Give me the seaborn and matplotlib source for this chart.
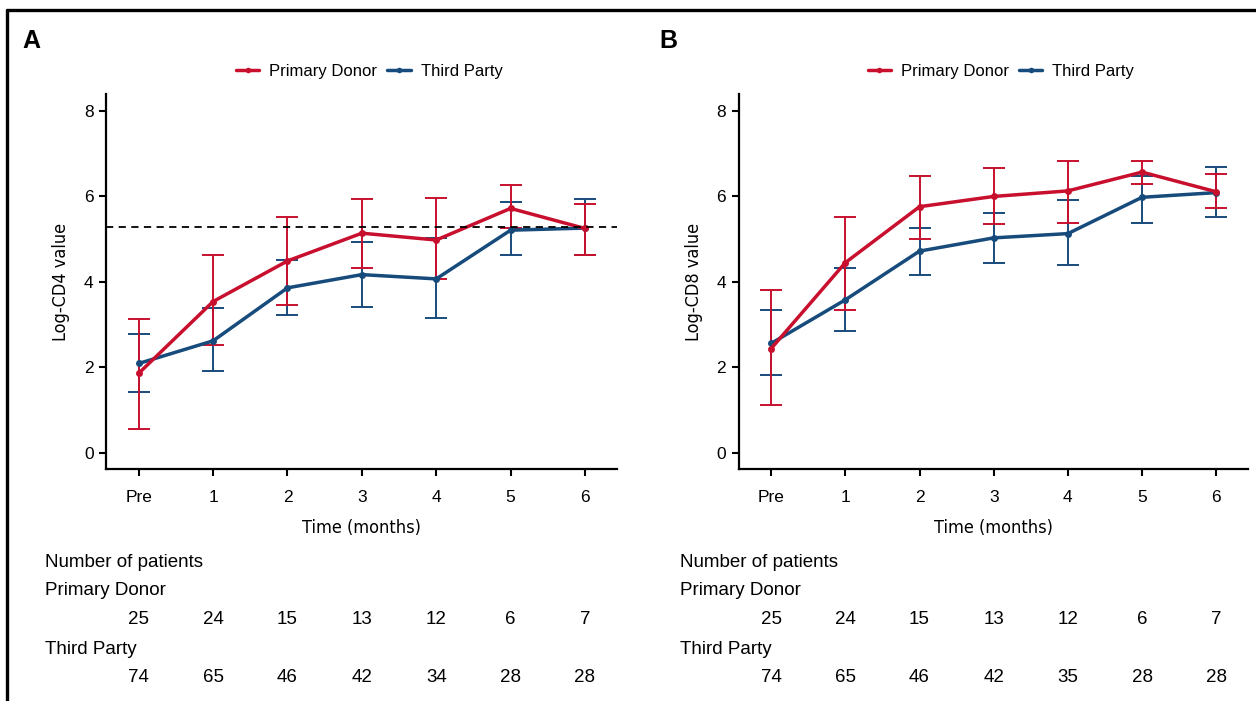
import matplotlib
matplotlib.use("Agg")
import matplotlib.pyplot as plt
import matplotlib.transforms as mtrans
from matplotlib import font_manager as fm
from matplotlib.lines import Line2D
import numpy as np
import pandas as pd
import seaborn as sb

sb.set_theme(style="white")
plt.rcParams['font.family'] = ['Liberation Sans', 'DejaVu Sans']
plt.rcParams['text.color'] = 'black'
plt.rcParams['axes.labelcolor'] = 'black'

# time points
time_labels = ['Pre', '1', '2', '3', '4', '5', '6']
time_pos = np.arange(len(time_labels))
groups = ['Primary Donor', 'Third Party']
colors = {'Primary Donor': '#C8102E', 'Third Party': '#174B7C'}

# panel A: log CD4
cd4_pd = [1.86, 3.54, 4.49, 5.14, 4.98, 5.72, 5.25]
cd4_pd_lo = [0.56, 2.52, 3.46, 4.33, 4.06, 5.25, 4.64]
cd4_pd_hi = [3.13, 4.64, 5.53, 5.95, 5.96, 6.26, 5.82]
cd4_tp = [2.09, 2.62, 3.86, 4.17, 4.07, 5.21, 5.26]
cd4_tp_lo = [1.42, 1.91, 3.22, 3.41, 3.16, 4.64, 4.64]
cd4_tp_hi = [2.77, 3.38, 4.51, 4.94, 5.02, 5.86, 5.93]
cd4_ref = 5.28

# panel B: log CD8
cd8_pd = [2.44, 4.45, 5.76, 6.00, 6.13, 6.57, 6.11]
cd8_pd_lo = [1.12, 3.33, 5.00, 5.36, 5.39, 6.28, 5.74]
cd8_pd_hi = [3.81, 5.52, 6.49, 6.67, 6.84, 6.83, 6.53]
cd8_tp = [2.56, 3.58, 4.72, 5.03, 5.13, 5.98, 6.09]
cd8_tp_lo = [1.82, 2.86, 4.15, 4.45, 4.39, 5.39, 5.53]
cd8_tp_hi = [3.35, 4.33, 5.25, 5.61, 5.91, 6.48, 6.69]

# number of patients
n_cd4_pd = [25, 24, 15, 13, 12, 6, 7]
n_cd4_tp = [74, 65, 46, 42, 34, 28, 28]
n_cd8_pd = [25, 24, 15, 13, 12, 6, 7]
n_cd8_tp = [74, 65, 46, 42, 35, 28, 28]


def narrow_font():
    """Pick a regular condensed sans face if one is installed."""
    fonts = fm.fontManager.ttflist
    for want in ['Liberation Sans Narrow', 'DejaVu Sans', 'Roboto', 'Open Sans', 'Noto Sans']:
        for f in fonts:
            if (f.name == want and f.style == 'normal'
                    and f.weight in (400, 'normal', 'regular', 'book')
                    and f.stretch in ('condensed', 'semi-condensed', 'extra-condensed')):
                return fm.FontProperties(fname=f.fname)
    return None


NARROW = narrow_font()


def axis_label(setter, text, size):
    if NARROW is not None:
        fp = NARROW.copy()
        fp.set_size(size)
        return setter(text, fontproperties=fp)
    return setter(text, fontsize=size, family=['Liberation Sans', 'DejaVu Sans'])


def panel(fig, rect, letter, letter_x, ylabel, series, counts, table_x, ref=None):
    ax = fig.add_axes(rect)
    df = pd.concat([
        pd.DataFrame({'time': time_pos, 'value': series[g][0], 'group': g})
        for g in groups
    ])
    # error bars under the lines
    for g in ['Third Party', 'Primary Donor']:
        mean, lo, hi = series[g]
        mean = np.array(mean)
        ax.errorbar(time_pos, mean, yerr=[mean - np.array(lo), np.array(hi) - mean],
                    fmt='none', ecolor=colors[g], elinewidth=1.4, capsize=8,
                    capthick=1.4, zorder=2)
    sb.lineplot(data=df, x='time', y='value', hue='group',
                hue_order=['Third Party', 'Primary Donor'], palette=colors,
                marker='o', markersize=5, markeredgewidth=0, linewidth=2.5,
                legend=False, ax=ax, zorder=3)
    if ref is not None:
        ax.axhline(ref, color='black', lw=1.3, ls=(0, (4, 3)), zorder=4)

    ax.set_xlim(-0.44, 6.43)
    ax.set_ylim(-0.38, 8.4)
    ax.set_xticks(time_pos, time_labels)
    ax.set_yticks([0, 2, 4, 6, 8])
    ax.tick_params(axis='both', labelsize=12.5, length=5, width=1.5, pad=4,
                   color='black', labelcolor='black', direction='out',
                   bottom=True, left=True)
    ax.tick_params(axis='x', pad=10)
    for s in ['top', 'right']:
        ax.spines[s].set_visible(False)
    for s in ['left', 'bottom']:
        ax.spines[s].set_color('black')
        ax.spines[s].set_linewidth(1.6)
    axis_label(ax.set_xlabel, 'Time (months)', 13)
    axis_label(ax.set_ylabel, ylabel, 13)
    ax.xaxis.labelpad = 10
    ax.yaxis.labelpad = 10

    handles = [Line2D([], [], color=colors[g], lw=2.5, marker='o', markersize=4,
                      markeredgewidth=0) for g in groups]
    ax.legend(handles, groups, loc='center', bbox_to_anchor=(0.515, 1.06),
              ncol=2, frameon=False, fontsize=12, handlelength=1.4,
              handletextpad=0.6, columnspacing=0.6)

    fig.text(letter_x, 0.941, letter, fontsize=18, fontweight='bold', va='center')

    # number of patients table
    tr = mtrans.blended_transform_factory(ax.transData, fig.transFigure)
    fig.text(table_x, 0.197, 'Number of patients', fontsize=13.5, va='center')
    fig.text(table_x, 0.158, groups[0], fontsize=13.5, va='center')
    fig.text(table_x, 0.073, groups[1], fontsize=13.5, va='center')
    for x, a, b in zip(time_pos, counts[0], counts[1]):
        ax.text(x, 0.116, str(a), transform=tr, fontsize=13.5, ha='center', va='center')
        ax.text(x, 0.034, str(b), transform=tr, fontsize=13.5, ha='center', va='center')
    return ax


fig = plt.figure(figsize=(12.56, 7.01), dpi=100)

panel(fig, [0.0844, 0.331, 0.4068, 0.535], 'A', 0.018, 'Log-CD4 value',
      {'Primary Donor': (cd4_pd, cd4_pd_lo, cd4_pd_hi),
       'Third Party': (cd4_tp, cd4_tp_lo, cd4_tp_hi)},
      (n_cd4_pd, n_cd4_tp), 0.036, ref=cd4_ref)
panel(fig, [0.588, 0.331, 0.4057, 0.535], 'B', 0.525, 'Log-CD8 value',
      {'Primary Donor': (cd8_pd, cd8_pd_lo, cd8_pd_hi),
       'Third Party': (cd8_tp, cd8_tp_lo, cd8_tp_hi)},
      (n_cd8_pd, n_cd8_tp), 0.5414)

# frame lines on the left and top edge
fig.add_artist(Line2D([0.0056, 0.0056], [0, 0.986], color='black', lw=2.4,
                      transform=fig.transFigure))
fig.add_artist(Line2D([0.0056, 1], [0.986, 0.986], color='black', lw=2.4,
                      transform=fig.transFigure))

fig.savefig('out.png', dpi=100)
